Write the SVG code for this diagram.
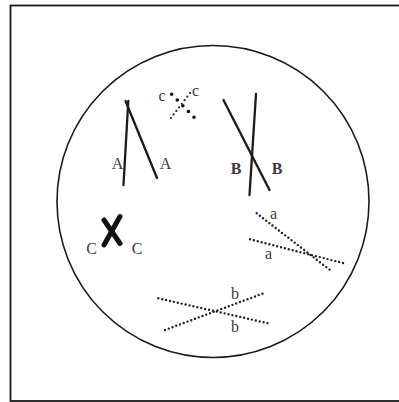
<svg xmlns="http://www.w3.org/2000/svg" width="399" height="402" viewBox="0 0 399 402">
<style>
.solid{stroke:#1a1a1a;stroke-width:2.3;stroke-linecap:round;fill:none}
.dot{stroke:#222;stroke-width:2.4;stroke-linecap:round;stroke-dasharray:0 4;fill:none}
.lbl{font-family:"Liberation Serif",serif;font-size:16px;fill:#3a3a3a;text-anchor:middle}
</style>
<rect x="10.5" y="5.5" width="400" height="395.5" fill="#fff" stroke="#1a1a1a" stroke-width="1.8"/>
<circle cx="213" cy="201.5" r="156" fill="none" stroke="#1a1a1a" stroke-width="1.6"/>
<g id="connectors">
<g id="pairA">
<line class="solid" x1="128.3" y1="101" x2="123.5" y2="185"/>
<line class="solid" x1="125.5" y1="101" x2="157" y2="178"/>
</g>
<g id="pairB">
<line class="solid" x1="223.5" y1="100" x2="269.5" y2="190"/>
<line class="solid" x1="256" y1="94" x2="249.5" y2="195"/>
</g>
<g id="pairCbig">
<line x1="104" y1="220" x2="120" y2="243.5" stroke="#111" stroke-width="5" stroke-linecap="round"/>
<line x1="120" y1="216.5" x2="104" y2="245" stroke="#111" stroke-width="5" stroke-linecap="round"/>
</g>
<g id="pairCsmall">
<line x1="171.7" y1="94.3" x2="195" y2="118.3" stroke="#111" stroke-width="3.6" stroke-linecap="round" stroke-dasharray="0 8"/>
<line x1="190" y1="93" x2="170.7" y2="118.3" stroke="#222" stroke-width="2.2" stroke-linecap="round" stroke-dasharray="0 4.5"/>
</g>
<g id="pairA2">
<path class="dot" d="M256.7 213.3 L330 270"/>
<path class="dot" d="M250 239.3 L346.7 264"/>
</g>
<g id="pairB2">
<path class="dot" d="M158.3 298.3 L268.3 323.3"/>
<path class="dot" d="M165 330 L265 292.7"/>
</g>
</g>
<g id="labels">
<text class="lbl" x="117.5" y="168.5">A</text>
<text class="lbl" x="165.5" y="168.5">A</text>
<text class="lbl" x="236" y="174" font-weight="bold">B</text>
<text class="lbl" x="277" y="174" font-weight="bold">B</text>
<text class="lbl" x="91.7" y="254">C</text>
<text class="lbl" x="137" y="254">C</text>
<text class="lbl" x="162" y="101">c</text>
<text class="lbl" x="195.5" y="96">c</text>
<text class="lbl" x="273.5" y="219">a</text>
<text class="lbl" x="268.5" y="259">a</text>
<text class="lbl" x="235" y="299">b</text>
<text class="lbl" x="235" y="331.5">b</text>
</g>
</svg>
